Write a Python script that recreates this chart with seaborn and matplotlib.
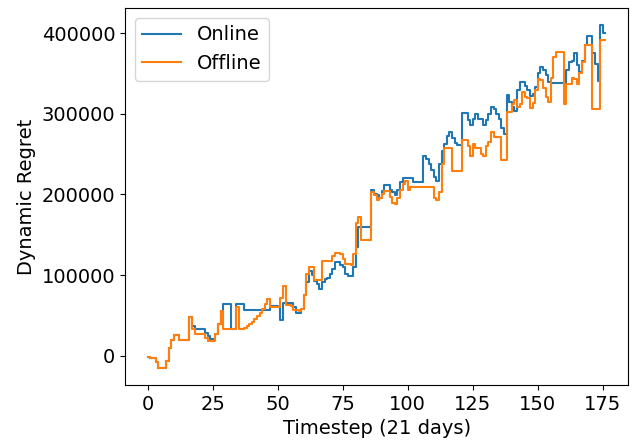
import numpy as np
import pandas as pd
import matplotlib
matplotlib.use("Agg")
import matplotlib.pyplot as plt
import seaborn as sns

# Cumulative dynamic regret per timestep, in thousands
online_k = [
    -1, -3, -3, -8, -15, -15, -15, -6, 10, 19,
    26, 26, 19.5, 19.5, 19.5, 19.5, 47.6, 37, 33, 33,
    33, 33, 28, 25, 21, 19.5, 27, 39, 56, 64,
    64, 64, 33, 33, 64, 64, 64, 57, 57, 57,
    57, 57, 57, 57, 57, 57, 57, 62, 62, 62,
    60, 44, 66, 66, 66, 65, 60, 53, 53, 58,
    75, 91, 105, 100, 93, 89, 83, 91, 95, 97,
    101, 108, 116, 116, 112, 110, 101, 99, 99, 110,
    135, 160, 160, 160, 160, 160, 206, 201, 199, 195,
    204, 212, 212, 205, 203, 199, 205, 215, 221, 221,
    221, 221, 215, 215, 215, 215, 248, 244, 238, 230,
    222, 217, 238, 254, 262, 272, 277, 270, 264, 261,
    261, 301, 301, 292, 286, 294, 300, 294, 294, 286,
    292, 300, 308, 306, 300, 293, 282, 275, 323, 315,
    308, 304, 329, 339, 339, 335, 329, 322, 325, 333,
    350, 358, 354, 348, 340, 338, 338, 338, 338, 338,
    338, 354, 364, 366, 375, 360, 352, 365, 385, 397,
    397, 375, 362, 341, 410, 400, 400,
]

offline_k = [
    -1, -3, -3, -8, -15, -15, -15, -6, 10, 19,
    26, 26, 19.5, 19.5, 19.5, 19.5, 47.6, 33, 27.5, 27.5,
    27.5, 27.5, 22, 18.6, 18.6, 18.6, 27, 39, 56, 33,
    33, 33, 33, 33, 60, 33, 33, 35, 37, 39,
    42, 45, 49, 53, 58, 64, 70, 61, 61, 61,
    61, 72, 87, 63, 63, 62, 57, 57, 55, 58,
    75, 101, 110, 110, 94, 94, 94, 118, 118, 118,
    118, 124, 128, 128, 126, 120, 114, 114, 112, 126,
    165, 172, 143, 143, 143, 143, 203, 199, 193, 196,
    200, 204, 204, 197, 190, 188, 195, 205, 213, 217,
    205, 209, 209, 209, 209, 209, 209, 209, 209, 209,
    195, 192.5, 203, 238, 257, 257, 257, 229, 229, 229,
    229, 268, 268, 260, 248, 263, 258, 258, 250, 248,
    260, 265, 277, 271, 271, 271, 243, 243, 302, 302,
    312, 317, 308, 312, 327, 321, 319, 307.5, 314, 330,
    343, 342, 332, 321, 314.6, 345, 370, 377, 377, 377,
    312.6, 337.5, 337.5, 345, 343, 337.5, 350, 364, 385, 385,
    385, 306, 306, 306, 391, 391, 391,
]

series_names = ["Online", "Offline"]
timesteps = np.arange(len(online_k))

df = pd.DataFrame({
    "Timestep": np.concatenate([timesteps, timesteps]),
    "Regret": np.concatenate([np.array(online_k), np.array(offline_k)]) * 1000,
    "Method": [series_names[0]] * len(online_k) + [series_names[1]] * len(offline_k),
})

plt.rcParams["font.family"] = ["DejaVu Sans"]
fig = plt.figure(figsize=(6.41, 4.41), dpi=100)
ax = fig.add_axes([0.195, 0.127, 0.785, 0.855])

sns.lineplot(
    data=df, x="Timestep", y="Regret", hue="Method",
    palette=["#1f77b4", "#ff7f0e"], drawstyle="steps-post",
    linewidth=1.5, ax=ax, estimator=None,
)

ax.set_xlabel("Timestep (21 days)", fontsize=14)
ax.set_ylabel("Dynamic Regret", fontsize=14)
ax.tick_params(axis="both", labelsize=14)
ax.set_xticks([0, 25, 50, 75, 100, 125, 150, 175])
ax.set_yticks([0, 100000, 200000, 300000, 400000])
ax.legend(loc="upper left", fontsize=14, title=None)

fig.savefig("out.png", dpi=100)
